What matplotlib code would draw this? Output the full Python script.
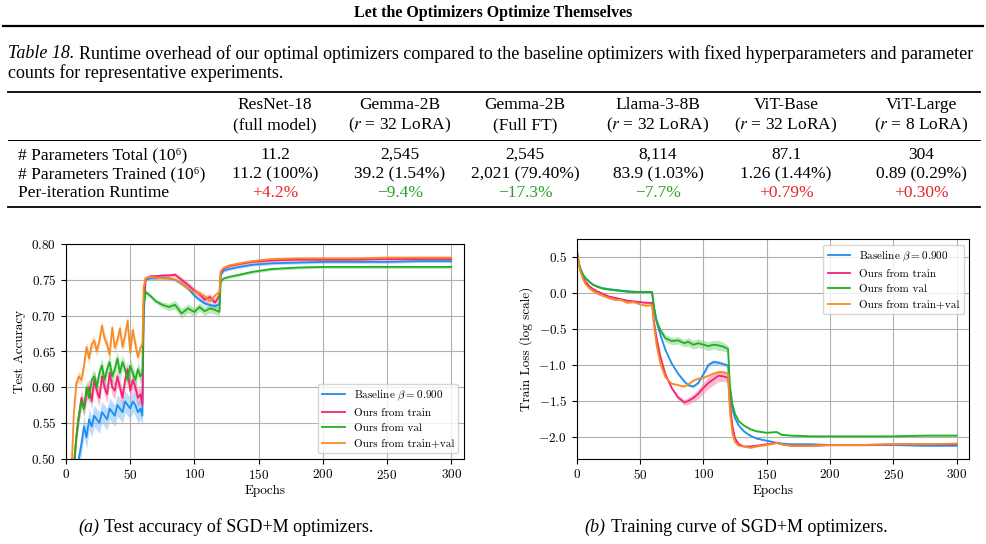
import matplotlib
matplotlib.use("Agg")
import matplotlib.pyplot as plt
from matplotlib.lines import Line2D
import numpy as np

plt.rcParams["font.family"] = "cmr10"
plt.rcParams["mathtext.fontset"] = "cm"
plt.rcParams["axes.formatter.use_mathtext"] = True

W, H = 986, 544
SERIF = ["Liberation Serif", "DejaVu Serif"]

# ---- table data
models = ["ResNet-18", "Gemma-2B", "Gemma-2B", "Llama-3-8B", "ViT-Base", "ViT-Large"]
settings = ["(full model)", "($r$ = 32 LoRA)", "(Full FT)", "($r$ = 32 LoRA)",
            "($r$ = 32 LoRA)", "($r$ = 8 LoRA)"]
row_names = ["# Parameters Total (10\u2076)", "# Parameters Trained (10\u2076)", "Per-iteration Runtime"]
params_total = ["11.2", "2,545", "2,545", "8,114", "87.1", "304"]
params_trained = ["11.2 (100%)", "39.2 (1.54%)", "2,021 (79.40%)", "83.9 (1.03%)",
                  "1.26 (1.44%)", "0.89 (0.29%)"]
runtime = ["+4.2%", "\u22129.4%", "\u221217.3%", "\u22127.7%", "+0.79%", "+0.30%"]

# ---- series names / colors
labels = ["Baseline $\\beta = 0.900$", "Ours from train", "Ours from val", "Ours from train+val"]
colors = ["#1f8ef1", "#f5246e", "#20b020", "#f98b25"]

# ---- (a) test accuracy
acc_epochs = [4, 6, 8, 10, 12, 14, 16, 18, 20, 22, 24, 26, 28, 30, 32, 34, 36, 38, 40, 42,
              44, 46, 48, 50, 52, 54, 56, 58, 59.5, 60.5, 62, 66, 70, 75, 80, 85, 90, 95, 100, 104,
              108, 112, 116, 119.5, 120.5, 123, 127, 135, 145, 160, 180, 200, 225, 250, 275, 300]
acc_base = [0.42, 0.45, 0.47, 0.50, 0.52, 0.545, 0.53, 0.555, 0.545, 0.56, 0.555, 0.55, 0.565, 0.56,
            0.555, 0.57, 0.565, 0.56, 0.575, 0.57, 0.565, 0.58, 0.575, 0.57, 0.58, 0.575, 0.565, 0.57,
            0.56, 0.70, 0.75, 0.752, 0.752, 0.753, 0.752, 0.75, 0.745, 0.738, 0.728, 0.722, 0.717,
            0.715, 0.713, 0.716, 0.757, 0.763, 0.765, 0.768, 0.771, 0.773, 0.774, 0.775, 0.775, 0.775,
            0.776, 0.776]
acc_train = [0.45, 0.48, 0.53, 0.56, 0.585, 0.57, 0.59, 0.60, 0.58, 0.61, 0.595, 0.585, 0.615, 0.60,
             0.59, 0.62, 0.60, 0.595, 0.615, 0.60, 0.585, 0.61, 0.625, 0.595, 0.61, 0.60, 0.585, 0.59,
             0.575, 0.72, 0.752, 0.755, 0.755, 0.756, 0.756, 0.757, 0.75, 0.743, 0.735, 0.73, 0.722,
             0.726, 0.718, 0.728, 0.76, 0.766, 0.769, 0.772, 0.775, 0.777, 0.778, 0.778, 0.778, 0.779,
             0.779, 0.779]
acc_val = [0.45, 0.49, 0.53, 0.56, 0.58, 0.57, 0.60, 0.585, 0.61, 0.615, 0.60, 0.62, 0.63, 0.61,
           0.625, 0.635, 0.615, 0.625, 0.64, 0.62, 0.635, 0.625, 0.61, 0.63, 0.62, 0.61, 0.625, 0.615,
           0.62, 0.715, 0.733, 0.727, 0.72, 0.715, 0.712, 0.715, 0.703, 0.71, 0.705, 0.712, 0.706,
           0.71, 0.708, 0.705, 0.748, 0.752, 0.754, 0.757, 0.761, 0.765, 0.767, 0.768, 0.768, 0.768,
           0.768, 0.768]
acc_trval = [0.47, 0.56, 0.605, 0.615, 0.61, 0.63, 0.656, 0.64, 0.66, 0.665, 0.65, 0.665, 0.686, 0.668,
             0.66, 0.645, 0.683, 0.655, 0.665, 0.682, 0.656, 0.672, 0.693, 0.648, 0.68, 0.66, 0.642,
             0.655, 0.66, 0.74, 0.752, 0.754, 0.753, 0.752, 0.752, 0.75, 0.745, 0.738, 0.733, 0.731,
             0.727, 0.72, 0.728, 0.733, 0.762, 0.767, 0.77, 0.773, 0.776, 0.779, 0.78, 0.78, 0.78,
             0.781, 0.781, 0.781]
# half-width of the shaded bands
acc_sd = [
    [0.015, 0.015, 0.015, 0.015, 0.015, 0.015, 0.015, 0.015, 0.015, 0.015, 0.015, 0.015, 0.015, 0.015,
     0.015, 0.015, 0.015, 0.015, 0.015, 0.015, 0.015, 0.015, 0.015, 0.015, 0.015, 0.015, 0.015, 0.015,
     0.012, 0.006, 0.002, 0.002, 0.002, 0.002, 0.002, 0.002, 0.003, 0.003, 0.003, 0.003, 0.003,
     0.003, 0.003, 0.003, 0.002, 0.002, 0.002, 0.002, 0.002, 0.002, 0.002, 0.002, 0.002, 0.002,
     0.002, 0.002],
    [0.012, 0.012, 0.012, 0.012, 0.012, 0.012, 0.012, 0.012, 0.012, 0.012, 0.012, 0.012, 0.012, 0.012,
     0.012, 0.012, 0.012, 0.012, 0.012, 0.012, 0.012, 0.012, 0.012, 0.012, 0.012, 0.012, 0.012, 0.012,
     0.01, 0.006, 0.002, 0.002, 0.002, 0.002, 0.003, 0.003, 0.004, 0.004, 0.004, 0.005, 0.005,
     0.005, 0.005, 0.005, 0.002, 0.002, 0.002, 0.002, 0.002, 0.002, 0.002, 0.002, 0.002, 0.002,
     0.002, 0.002],
    [0.01, 0.01, 0.01, 0.01, 0.01, 0.01, 0.01, 0.01, 0.01, 0.01, 0.01, 0.01, 0.01, 0.01,
     0.01, 0.01, 0.01, 0.01, 0.01, 0.01, 0.01, 0.01, 0.01, 0.01, 0.01, 0.01, 0.01, 0.01,
     0.008, 0.005, 0.003, 0.003, 0.003, 0.004, 0.005, 0.006, 0.007, 0.006, 0.006, 0.006, 0.006,
     0.006, 0.006, 0.006, 0.002, 0.002, 0.002, 0.002, 0.002, 0.002, 0.002, 0.002, 0.002, 0.002,
     0.002, 0.002],
    [0.008, 0.008, 0.008, 0.008, 0.008, 0.008, 0.008, 0.008, 0.008, 0.008, 0.008, 0.008, 0.008, 0.008,
     0.008, 0.008, 0.008, 0.008, 0.008, 0.008, 0.008, 0.008, 0.008, 0.008, 0.008, 0.008, 0.008, 0.008,
     0.006, 0.004, 0.002, 0.002, 0.002, 0.002, 0.002, 0.002, 0.003, 0.003, 0.003, 0.003, 0.003,
     0.003, 0.003, 0.003, 0.002, 0.002, 0.002, 0.002, 0.002, 0.002, 0.002, 0.002, 0.002, 0.002,
     0.002, 0.002],
]

# ---- (b) train loss (log scale)
loss_epochs = [0, 1, 2, 3, 5, 7, 10, 13, 16, 20, 25, 30, 35, 40, 45, 50, 55, 59.5, 61, 63,
               66, 70, 75, 80, 85, 88, 92, 96, 100, 104, 108, 112, 116, 119.5, 121, 123, 125, 128,
               132, 137, 142, 150, 158, 162, 170, 185, 200, 225, 250, 275, 300]
loss_base = [0.59, 0.48, 0.39, 0.33, 0.25, 0.2, 0.15, 0.11, 0.09, 0.065, 0.05, 0.04, 0.03, 0.02,
             0.015, 0.01, 0.008, 0.005, -0.2, -0.4, -0.58, -0.79, -0.98, -1.12, -1.23, -1.28, -1.3,
             -1.25, -1.13, -1.0, -0.96, -0.97, -0.99, -1.01, -1.4, -1.62, -1.74, -1.84, -1.92, -1.98,
             -2.02, -2.05, -2.08, -2.09, -2.1, -2.1, -2.11, -2.11, -2.11, -2.12, -2.12]
loss_train = [0.59, 0.47, 0.37, 0.3, 0.21, 0.15, 0.09, 0.05, 0.02, -0.01, -0.05, -0.07, -0.09, -0.11,
              -0.12, -0.13, -0.14, -0.14, -0.4, -0.62, -0.88, -1.13, -1.32, -1.45, -1.52, -1.5, -1.46,
              -1.4, -1.32, -1.25, -1.2, -1.15, -1.16, -1.18, -1.55, -1.85, -2.02, -2.1, -2.13, -2.13,
              -2.12, -2.1, -2.08, -2.1, -2.12, -2.12, -2.11, -2.11, -2.1, -2.1, -2.1]
loss_val = [0.59, 0.48, 0.39, 0.33, 0.25, 0.2, 0.15, 0.11, 0.085, 0.06, 0.045, 0.035, 0.025, 0.015,
            0.01, 0.012, 0.01, 0.01, -0.2, -0.38, -0.52, -0.63, -0.67, -0.66, -0.7, -0.68, -0.72,
            -0.7, -0.72, -0.74, -0.72, -0.73, -0.75, -0.78, -1.3, -1.55, -1.68, -1.78, -1.84, -1.89,
            -1.92, -1.94, -1.93, -1.97, -1.98, -1.99, -1.99, -1.99, -1.99, -1.98, -1.98]
loss_trval = [0.59, 0.46, 0.36, 0.29, 0.19, 0.12, 0.06, 0.02, -0.01, -0.04, -0.07, -0.1, -0.1, -0.14,
              -0.13, -0.16, -0.18, -0.17, -0.45, -0.72, -0.98, -1.17, -1.26, -1.28, -1.3, -1.27, -1.22,
              -1.19, -1.18, -1.15, -1.12, -1.1, -1.1, -1.12, -1.65, -1.95, -2.07, -2.12, -2.13, -2.15,
              -2.13, -2.11, -2.08, -2.1, -2.12, -2.12, -2.11, -2.11, -2.1, -2.1, -2.09]
loss_sd = [
    [0.01, 0.01, 0.01, 0.01, 0.01, 0.01, 0.01, 0.01, 0.01, 0.01, 0.01, 0.01, 0.01, 0.01,
     0.01, 0.01, 0.01, 0.01, 0.01, 0.01, 0.01, 0.01, 0.01, 0.015, 0.02, 0.02, 0.02, 0.02,
     0.03, 0.03, 0.03, 0.03, 0.025, 0.025, 0.01, 0.01, 0.01, 0.01, 0.01, 0.01, 0.01, 0.01,
     0.01, 0.01, 0.01, 0.01, 0.01, 0.01, 0.01, 0.01, 0.01],
    [0.01, 0.01, 0.01, 0.01, 0.01, 0.01, 0.01, 0.01, 0.01, 0.01, 0.01, 0.01, 0.01, 0.01,
     0.01, 0.01, 0.01, 0.01, 0.01, 0.01, 0.02, 0.02, 0.02, 0.03, 0.04, 0.05, 0.05, 0.07,
     0.08, 0.08, 0.08, 0.08, 0.07, 0.06, 0.02, 0.02, 0.02, 0.02, 0.01, 0.01, 0.01, 0.01,
     0.01, 0.01, 0.01, 0.01, 0.01, 0.01, 0.01, 0.01, 0.01],
    [0.01, 0.01, 0.01, 0.01, 0.01, 0.01, 0.01, 0.01, 0.01, 0.01, 0.01, 0.01, 0.01, 0.01,
     0.01, 0.01, 0.01, 0.01, 0.02, 0.03, 0.04, 0.05, 0.05, 0.05, 0.05, 0.06, 0.06, 0.06,
     0.06, 0.06, 0.06, 0.07, 0.06, 0.05, 0.02, 0.02, 0.02, 0.01, 0.01, 0.01, 0.01, 0.01,
     0.01, 0.01, 0.01, 0.01, 0.01, 0.01, 0.01, 0.01, 0.01],
    [0.01, 0.01, 0.01, 0.01, 0.01, 0.01, 0.01, 0.01, 0.01, 0.01, 0.01, 0.01, 0.015, 0.015,
     0.015, 0.015, 0.015, 0.015, 0.01, 0.01, 0.01, 0.01, 0.01, 0.015, 0.015, 0.015, 0.015, 0.015,
     0.015, 0.015, 0.015, 0.015, 0.015, 0.015, 0.01, 0.01, 0.01, 0.01, 0.01, 0.01, 0.01, 0.01,
     0.01, 0.01, 0.01, 0.01, 0.01, 0.01, 0.01, 0.01, 0.01],
]


def fx(x):
    return x / W


def fy(y):
    return 1 - y / H


def hline(fig, x0, x1, y, lw):
    fig.add_artist(Line2D([fx(x0), fx(x1)], [fy(y), fy(y)], transform=fig.transFigure,
                          color="black", lw=lw))


def ptext(fig, x, y, s, size=12.5, ha="left", **kw):
    return fig.text(fx(x), fy(y), s, fontsize=size, ha=ha, va="center", family=SERIF,
                    math_fontfamily="stix", **kw)


def mixed(fig, x, y, ital, rest, size, center=False):
    # italic lead-in followed by upright text
    r = fig.canvas.get_renderer()
    t1 = ptext(fig, 0, y, ital, size=size, style="italic")
    t2 = ptext(fig, 0, y, rest, size=size)
    w1 = t1.get_window_extent(r).width
    w2 = t2.get_window_extent(r).width
    gap = size * 0.27 * 100 / 72
    x0 = x - (w1 + gap + w2) / 2 if center else x
    t1.set_x(fx(x0))
    t2.set_x(fx(x0 + w1 + gap))


fig = plt.figure(figsize=(W / 100, H / 100), dpi=100)

# ---- page header and table
ptext(fig, 493, 13, "Let the Optimizers Optimize Themselves", size=11.5, ha="center", weight="bold")
hline(fig, 3, 983, 26, 1.6)
mixed(fig, 8, 54, "Table 18.", "Runtime overhead of our optimal optimizers compared to the "
      "baseline optimizers with fixed hyperparameters and parameter", 13)
ptext(fig, 8, 73, "counts for representative experiments.", size=13)

hline(fig, 8, 980, 92, 1.3)
hline(fig, 8, 980, 140, 0.7)
hline(fig, 8, 980, 207, 1.3)

col_x = [275, 400, 525, 658, 786, 921]
for i, cx in enumerate(col_x):
    ptext(fig, cx, 105, models[i], ha="center")
    ptext(fig, cx, 125, settings[i], ha="center")
    ptext(fig, cx, 155, params_total[i], ha="center")
    ptext(fig, cx, 174, params_trained[i], ha="center")
    rc = "#e8262b" if runtime[i].startswith("+") else "#2ca02c"
    ptext(fig, cx, 193, runtime[i], ha="center", color=rc)
for j, name in enumerate(row_names):
    ptext(fig, 18, [155, 174, 193][j], name)

# ---- (a) test accuracy
ax1 = fig.add_axes([fx(66), fy(458.7), fx(398), (458.7 - 244) / H])
acc_series = [acc_base, acc_train, acc_val, acc_trval]
for k in range(4):
    y = np.array(acc_series[k])
    s = np.array(acc_sd[k])
    ax1.fill_between(acc_epochs, y - s, y + s, color=colors[k], alpha=0.3, lw=0)
    ax1.plot(acc_epochs, y, color=colors[k], lw=1.3, label=labels[k])
ax1.set_xlim(0, 310)
ax1.set_ylim(0.5, 0.8)
ax1.set_yticks([0.5, 0.55, 0.6, 0.65, 0.7, 0.75, 0.8])
ax1.set_xlabel("Epochs", fontsize=9.5, labelpad=2)
ax1.set_ylabel("Test Accuracy", fontsize=9.5)
ax1.grid(True, color="#b0b0b0", lw=0.8)
ax1.tick_params(labelsize=9.5)
ax1.legend(loc="lower right", fontsize=8)

# ---- (b) train loss
ax2 = fig.add_axes([fx(576.7), fy(458.7), fx(392.6), (458.7 - 239.3) / H])
loss_series = [loss_base, loss_train, loss_val, loss_trval]
for k in range(4):
    y = np.array(loss_series[k])
    s = np.array(loss_sd[k])
    ax2.fill_between(loss_epochs, y - s, y + s, color=colors[k], alpha=0.3, lw=0)
    ax2.plot(loss_epochs, y, color=colors[k], lw=1.3, label=labels[k])
ax2.set_xlim(0, 310)
ax2.set_ylim(-2.30, 0.74)
ax2.set_yticks([-2.0, -1.5, -1.0, -0.5, 0.0, 0.5])
ax2.set_xlabel("Epochs", fontsize=9.5, labelpad=2)
ax2.set_ylabel("Train Loss (log scale)", fontsize=9.5)
ax2.grid(True, color="#b0b0b0", lw=0.8)
ax2.tick_params(labelsize=9.5)
ax2.legend(loc="upper right", fontsize=8)

# ---- sub-captions
mixed(fig, 226, 527, "(a)", "Test accuracy of SGD+M optimizers.", 13, center=True)
mixed(fig, 736, 527, "(b)", "Training curve of SGD+M optimizers.", 13, center=True)

fig.savefig("out.png", dpi=100)
